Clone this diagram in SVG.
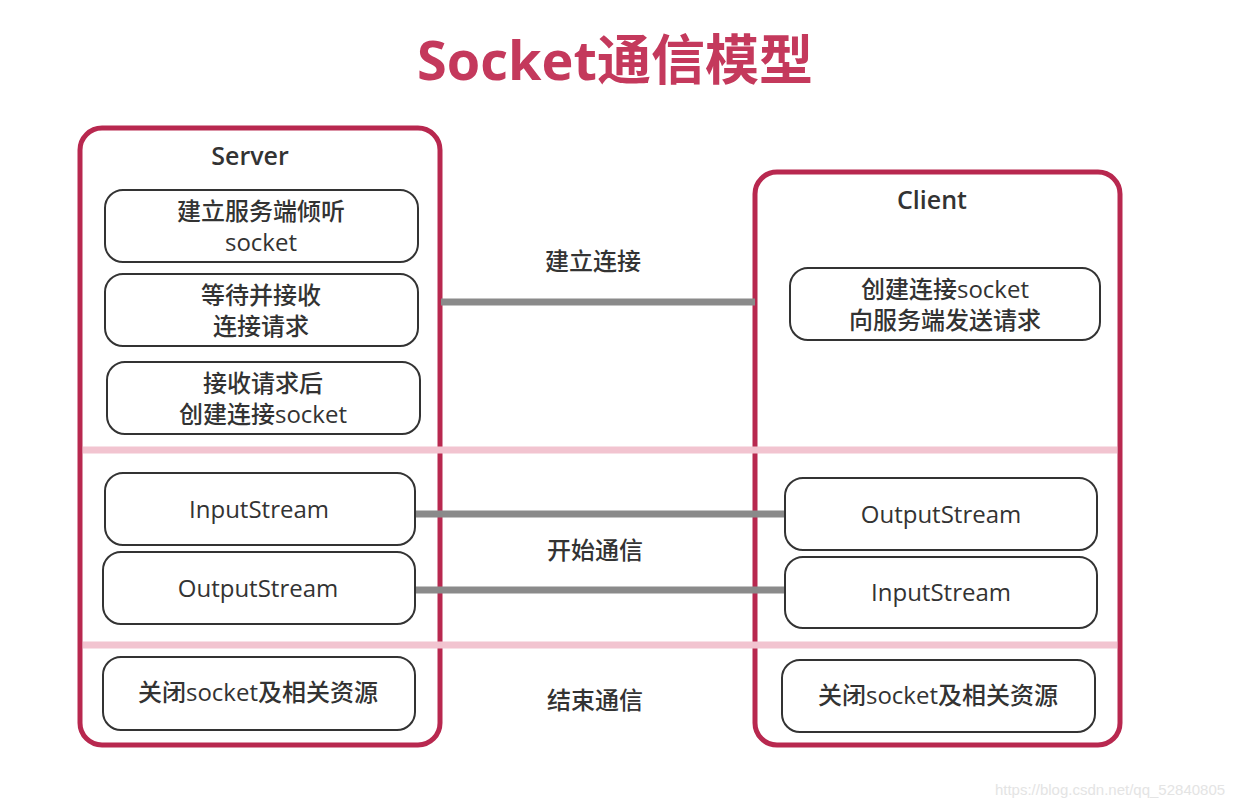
<svg xmlns="http://www.w3.org/2000/svg" width="1250" height="810" viewBox="0 0 1250 810">
<style>
text{font-family:"Open Sans","Noto Sans CJK SC",sans-serif;fill:#333;text-anchor:middle}
.big{fill:#fff;stroke:#b8284f;stroke-width:5}
.n{fill:#fff;stroke:#333;stroke-width:2}
.t{font-size:24px;font-weight:500}
.h{font-size:25px;font-weight:600}
.sep{stroke:#f2c4d0;stroke-width:7}
.c{stroke:#8a8a8a;stroke-width:7}
</style>
<rect width="1250" height="810" fill="#fff"/>
<text x="615" y="80" font-size="54" font-weight="bold" style="fill:#c4395c">Socket通信模型</text>
<g id="server"><rect class="big" x="80" y="128" width="360" height="617" rx="22"/><text x="250" y="165" class="h">Server</text></g>
<g id="client"><rect class="big" x="755" y="172" width="365" height="573" rx="22"/><text x="932" y="209" class="h">Client</text></g>
<g id="separators"><line class="sep" x1="83" y1="450" x2="1117" y2="450"/><line class="sep" x1="83" y1="645" x2="1117" y2="645"/></g>
<g id="connectors"><line class="c" x1="441" y1="302" x2="755" y2="302"/><line class="c" x1="416" y1="514" x2="786" y2="514"/><line class="c" x1="416" y1="590" x2="786" y2="590"/></g>
<g id="s1"><rect class="n" x="105" y="190" width="313" height="72" rx="18"/><text x="261" y="220" class="t">建立服务端倾听</text><text x="261" y="251" class="t">socket</text></g>
<g id="s2"><rect class="n" x="105" y="274" width="313" height="72" rx="18"/><text x="261" y="304" class="t">等待并接收</text><text x="261" y="335" class="t">连接请求</text></g>
<g id="s3"><rect class="n" x="107" y="362" width="313" height="72" rx="18"/><text x="263" y="392" class="t">接收请求后</text><text x="263" y="423" class="t">创建连接socket</text></g>
<g id="s4"><rect class="n" x="105" y="473" width="310" height="72" rx="18"/><text x="259" y="518" class="t">InputStream</text></g>
<g id="s5"><rect class="n" x="103" y="552" width="312" height="72" rx="18"/><text x="258" y="597" class="t">OutputStream</text></g>
<g id="s6"><rect class="n" x="103" y="657" width="312" height="73" rx="18"/><text x="258" y="701" class="t">关闭socket及相关资源</text></g>
<g id="c1"><rect class="n" x="790" y="268" width="310" height="72" rx="18"/><text x="945" y="298" class="t">创建连接socket</text><text x="945" y="329" class="t">向服务端发送请求</text></g>
<g id="c2"><rect class="n" x="785" y="478" width="312" height="72" rx="18"/><text x="941" y="523" class="t">OutputStream</text></g>
<g id="c3"><rect class="n" x="785" y="557" width="312" height="71" rx="18"/><text x="941" y="601" class="t">InputStream</text></g>
<g id="c4"><rect class="n" x="782" y="660" width="313" height="72" rx="18"/><text x="938" y="704" class="t">关闭socket及相关资源</text></g>
<g id="labels"><text x="593" y="270" class="t">建立连接</text><text x="595" y="559" class="t">开始通信</text><text x="595" y="709" class="t">结束通信</text></g>
<text x="1110" y="795" font-size="15" style="fill:#e4e4e4;font-family:'Liberation Sans',sans-serif">https://blog.csdn.net/qq_52840805</text>
</svg>
